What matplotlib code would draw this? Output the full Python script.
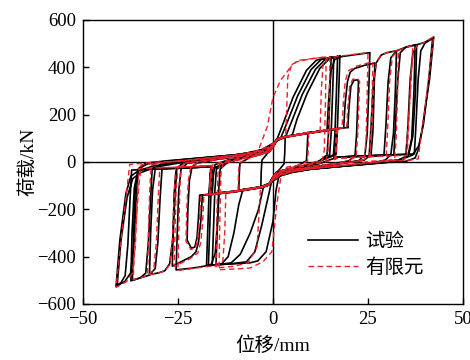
import matplotlib
matplotlib.use("Agg")
import matplotlib.pyplot as plt
import numpy as np

plt.rcParams['font.family'] = ['Liberation Serif', 'Noto Sans CJK SC']
plt.rcParams['axes.unicode_minus'] = True

# test loops (displacement mm, load kN)
t03 = [(3.2,104),(3.1,40),(2.9,-8),(1.5,-36),(0,-62),(-1,-90),(-3.2,-104),(-3.1,-40),(-2.9,8),(-1.5,36),(0,62),(1,90),(3.2,104)]
t09 = [(9.2,124),(9.0,60),(8.8,5),(6,-20),(3.4,-32),(1,-44),(0,-64),(-1,-92),(-3,-104),(-6,-112),(-9,-120),(-8.9,-60),(-8.7,-5),(-6,20),(-3.4,32),(-1,44),(0,64),(1,92),(3,104),(6,112),(9.2,124)]
t17 = [(16.7,140),(16.4,60),(16.0,15),(12,-8),(8,-20),(3.4,-33),(1,-45),(0,-66),(-1,-94),(-3,-105),(-6,-113),(-10,-123),(-16.0,-136),(-15.7,-60),(-15.3,-12),(-12,8),(-8,18),(-3.4,33),(-1,45),(0,66),(1,94),(3,105),(6,113),(10,123),(16.7,140)]
tc1 = [(15.3,442),(15.0,300),(14.6,120),(14.2,30),(12,2),(8,-18),(4,-31),(1.8,-40),(0.8,-120),(0,-250),(-1.8,-379),(-4,-418),(-6,-426),(-10,-430),(-15,-434),(-14.7,-300),(-14.3,-120),(-13.9,-30),(-12,-2),(-8,18),(-4,31),(-1.5,44),(0,70),(0.9,89),(2.6,160),(5.3,274),(8.8,387),(11.4,430),(13.5,438),(15.3,442)]
tc2 = [(16.0,444),(15.7,300),(15.3,120),(14.9,30),(12,2),(8,-18),(4,-31),(1,-42),(-0.2,-70),(-1.3,-150),(-3,-270),(-4.8,-380),(-7,-422),(-11,-430),(-16,-436),(-15.7,-300),(-15.3,-120),(-14.9,-30),(-12,-2),(-8,18),(-4,31),(-1,44),(0.5,80),(2.1,104),(3.8,170),(6.5,280),(10,390),(12.6,432),(14.5,440),(16.0,444)]
tc3 = [(17.0,446),(16.7,300),(16.3,120),(15.9,30),(12,2),(8,-18),(4,-31),(1,-42),(0,-66),(-1,-94),(-2.5,-104),(-3.8,-200),(-6,-300),(-8.6,-390),(-11,-426),(-13.5,-432),(-17,-438),(-16.7,-300),(-16.3,-120),(-15.9,-30),(-12,-2),(-8,18),(-4,31),(-1,44),(0,66),(1,92),(3.3,106),(5,175),(7.7,285),(11.2,392),(13.8,434),(17.0,446)]
tc4 = [(17.6,447),(17.3,300),(16.9,120),(16.5,30),(12,2),(8,-18),(4,-31),(1,-42),(0,-66),(-1,-94),(-3,-105),(-6,-112),(-7.9,-115),(-9.0,-180),(-10.3,-300),(-11.8,-400),(-13.5,-430),(-17.5,-440),(-17.2,-300),(-16.8,-120),(-16.4,-30),(-12,-2),(-8,18),(-4,31),(-1,44),(0,66),(1,92),(3,105),(5,110),(6.3,180),(9,290),(12.3,395),(14.8,436),(17.6,447)]
t22 = [(19.7,146),(20.0,230),(20.5,320),(21.3,345),(22.2,347),(22.5,340),(22.3,250),(22.0,120),(21.6,30),(20,5),(15,-10),(10,-22),(5,-32),(2,-40),(0,-66),(-1,-94),(-3,-105),(-10,-123),(-16.7,-136),(-19.3,-140),(-19.6,-230),(-20,-320),(-20.6,-360),(-21.5,-364),(-22.6,-330),(-22.4,-200),(-22.0,-80),(-21.3,-20),(-20,-5),(-15,10),(-10,22),(-5,32),(-2,40),(0,66),(1,94),(3,105),(10,123),(16.7,140),(19.7,146)]
t27 = [(16.7,140),(18.6,144),(19.0,250),(19.6,340),(20.3,379),(21.5,395),(24,408),(26.8,418),(26.6,300),(26.3,130),(25.8,30),(24,8),(18,-5),(10,-22),(5,-32),(2,-42),(0,-68),(-1,-96),(-3,-106),(-10,-124),(-16.7,-137),(-18.6,-142),(-19,-250),(-19.6,-340),(-20.3,-380),(-21.5,-400),(-24,-420),(-26.5,-440),(-26.3,-300),(-26,-130),(-25.5,-30),(-24,-8),(-18,5),(-10,22),(-5,32),(-2,42),(0,68),(1,96),(3,106),(10,124),(16.7,140)]
t25 = [(10,123),(14.2,132),(14.6,250),(15.2,380),(16.2,432),(18,445),(21,452),(25.5,462),(25.2,300),(24.8,120),(24.2,30),(22.5,5),(16,-12),(10,-25),(5,-36),(2,-46),(0,-68),(-1,-95),(-3,-106),(-10,-124),(-14.2,-130),(-14.6,-250),(-15.2,-385),(-16.2,-432),(-18,-440),(-21,-448),(-25.5,-456),(-25.2,-300),(-24.8,-120),(-24.2,-30),(-22.5,-5),(-16,12),(-10,25),(-5,36),(-2,46),(0,68),(1,95),(3,106),(10,123)]
t33 = [(16.7,140),(16.6,60),(16.3,20),(20,22),(25.3,25),(25.8,150),(26.4,330),(27.2,420),(28.5,452),(30,462),(32.5,470),(32.2,300),(31.7,120),(31.0,30),(29.5,8),(25,-8),(18,-18),(10,-30),(5,-40),(2,-50),(0,-70),(-1,-96),(-3,-106),(-10,-124),(-16.7,-137),(-16.5,-60),(-16.2,-20),(-20,-22),(-25.3,-25),(-25.8,-150),(-26.4,-330),(-27.2,-430),(-28.5,-460),(-30,-468),(-32.5,-476),(-32.2,-300),(-31.7,-120),(-31,-30),(-29.5,-8),(-25,8),(-18,18),(-10,30),(-5,40),(-2,50),(0,70),(1,96),(3,106),(10,124),(16.7,140)]
t37 = [(16.7,140),(16.6,60),(16.3,20),(22,24),(29.2,28),(29.7,150),(30.3,340),(31,440),(32.5,470),(35,485),(37.4,494),(37.1,300),(36.5,100),(35.5,25),(33.5,5),(28,-5),(20,-16),(10,-30),(5,-42),(2,-55),(0,-75),(-1.2,-98),(-3,-107),(-10,-125),(-16.7,-138),(-16.5,-60),(-16.2,-20),(-22,-24),(-29.2,-28),(-29.7,-150),(-30.3,-340),(-31,-450),(-32.5,-478),(-35,-490),(-37,-500),(-36.7,-300),(-36.2,-100),(-35.2,-25),(-33.5,-5),(-28,5),(-20,16),(-10,30),(-5,42),(-2,55),(0,75),(1.2,98),(3,107),(10,125),(16.7,140)]
t37b = [(16.7,140),(16.6,60),(16.3,20),(22,24),(31.8,30),(32.2,150),(32.8,340),(33.5,462),(35,486),(37.8,496),(37.5,300),(36.8,110),(35.7,30),(33,8),(28,-3),(20,-15),(10,-30),(5,-42),(2,-55),(0,-75),(-1.2,-98),(-3,-107),(-10,-125),(-16.7,-138),(-16.5,-60),(-16.2,-20),(-22,-24),(-31.8,-30),(-32.2,-150),(-32.8,-340),(-33.5,-470),(-35,-490),(-37.4,-502),(-37.1,-300),(-36.5,-110),(-35.5,-30),(-33,-8),(-28,3),(-20,15),(-10,30),(-5,42),(-2,55),(0,75),(1.2,98),(3,107),(10,125),(16.7,140)]
t42 = [(16.7,140),(16.6,60),(16.3,20),(25,26),(35,32),(35.5,150),(36.1,350),(36.8,460),(38,496),(40,506),(42.3,528),(41.2,350),(39.2,132),(38.2,50),(37.4,17),(35,3),(30,-2),(20,-15),(10,-30),(5,-44),(2,-58),(0,-80),(-1.5,-100),(-3,-108),(-10,-126),(-16.7,-138),(-16.5,-60),(-16.2,-20),(-25,-26),(-35.5,-32),(-36,-150),(-36.6,-350),(-37.5,-470),(-39,-505),(-41.3,-525),(-40.3,-330),(-38.7,-132),(-37.4,-60),(-35.5,-38),(-31.6,-17),(-25,-2),(-15,18),(-8,34),(-3,52),(0,78),(1.5,100),(3,107),(10,125),(16.7,140)]
t42b = [(16.7,140),(16.6,60),(16.3,20),(25,26),(37.2,34),(37.6,150),(38.2,350),(38.9,470),(40,502),(42.0,522),(41.0,350),(39.6,160),(38.4,70),(36.8,30),(34,12),(30,2),(20,-15),(10,-30),(5,-44),(2,-58),(0,-80),(-1.5,-100),(-3,-108),(-10,-126),(-16.7,-138),(-16.5,-60),(-16.2,-20),(-25,-26),(-37.2,-34),(-37.6,-150),(-38.2,-350),(-38.9,-480),(-40,-510),(-41.0,-520),(-40.0,-330),(-38.4,-150),(-36.9,-70),(-34.8,-45),(-31,-22),(-25,-5),(-15,16),(-8,32),(-3,50),(0,78),(1.5,100),(3,107),(10,125),(16.7,140)]

# finite element loops
f09 = [(9.4,126),(9.3,60),(9.1,4),(6,-18),(3.4,-30),(1,-42),(0,-62),(-1,-92),(-3,-104),(-6,-112),(-9.2,-121),(-9.1,-60),(-8.9,-4),(-6,18),(-3.4,30),(-1,42),(0,62),(1,92),(3,104),(6,112),(9.4,126)]
f17 = [(17.0,141),(16.8,60),(16.5,12),(12,-6),(8,-18),(3.4,-31),(1,-43),(0,-64),(-1,-93),(-3,-104),(-6,-112),(-10,-122),(-16.4,-137),(-16.2,-60),(-15.8,-10),(-12,6),(-8,18),(-3.4,31),(-1,43),(0,64),(1,93),(3,104),(6,112),(10,122),(17.0,141)]
fc1 = [(14.0,444),(13.8,250),(13.5,50),(13,8),(8,-12),(3.9,-20),(2.3,-38),(1,-179),(-0.3,-379),(-2.6,-421),(-6,-448),(-10,-452),(-14.2,-455),(-14.0,-250),(-13.7,-50),(-13.2,-8),(-8,12),(-3.9,47),(-1.5,150),(0,273),(2,345),(3.9,385),(5,412),(7.1,430),(10,436),(14.0,444)]
fc2 = [(15.0,446),(14.8,250),(14.5,50),(14,8),(8,-14),(4,-28),(2,-40),(0,-66),(-1,-94),(-3.3,-106),(-3.6,-200),(-4.2,-360),(-6.5,-425),(-10,-440),(-15,-448),(-14.8,-250),(-14.5,-50),(-14,-8),(-8,14),(-4,28),(-2,40),(0,66),(1,94),(3.3,106),(3.5,173),(3.9,359),(4.8,405),(6.1,423),(10,436),(15.0,446)]
f22 = [(19.4,146),(19.7,230),(20.2,320),(21.0,350),(22.3,352),(22.8,340),(22.6,250),(22.3,120),(21.9,25),(20,4),(15,-9),(10,-21),(5,-31),(2,-40),(0,-66),(-1,-94),(-3,-105),(-10,-123),(-16.7,-136),(-19.0,-140),(-19.3,-230),(-19.8,-320),(-20.4,-362),(-21.6,-370),(-22.9,-335),(-22.7,-200),(-22.3,-80),(-21.6,-18),(-20,-4),(-15,9),(-10,21),(-5,31),(-2,40),(0,66),(1,94),(3,105),(10,123),(16.7,141),(19.4,146)]
f27 = [(16.7,141),(18.2,143),(18.5,250),(19.0,340),(19.8,385),(22,405),(26.3,424),(26.1,300),(25.8,120),(25.3,20),(23,4),(18,-6),(10,-22),(5,-32),(2,-42),(0,-68),(-1,-96),(-3,-106),(-10,-124),(-16.7,-138),(-18.2,-142),(-18.5,-250),(-19.0,-340),(-19.8,-385),(-22,-410),(-26,-442),(-25.8,-300),(-25.5,-120),(-25,-20),(-23,-4),(-18,6),(-10,22),(-5,32),(-2,42),(0,68),(1,96),(3,106),(10,124),(16.7,141)]
f25 = [(10,123),(12.4,128),(12.7,300),(13.2,418),(14.5,440),(18,448),(21,454),(25.0,462),(24.8,300),(24.5,100),(24.1,15),(22,2),(16,-10),(10,-24),(5,-35),(2,-46),(0,-68),(-1,-95),(-3,-106),(-10,-124),(-12.4,-127),(-12.7,-300),(-13.2,-420),(-14.5,-438),(-18,-443),(-21,-450),(-25.0,-458),(-24.8,-300),(-24.5,-100),(-24.1,-15),(-22,-2),(-16,10),(-10,24),(-5,35),(-2,46),(0,68),(1,95),(3,106),(10,123)]
f33 = [(16.7,141),(16.6,60),(16.3,15),(20,18),(25.6,22),(26.0,150),(26.5,330),(27.2,425),(28.5,452),(30,462),(33.0,472),(32.8,300),(32.4,100),(32.0,12),(29,4),(24,-6),(18,-16),(10,-28),(5,-38),(2,-50),(0,-70),(-1,-96),(-3,-106),(-10,-124),(-16.7,-137),(-16.5,-60),(-16.2,-15),(-20,-18),(-25.6,-22),(-26.0,-150),(-26.5,-330),(-27.2,-435),(-28.5,-460),(-30,-468),(-33.0,-478),(-32.8,-300),(-32.4,-100),(-32.0,-12),(-29,-4),(-24,6),(-18,16),(-10,28),(-5,38),(-2,50),(0,70),(1,96),(3,106),(10,124),(16.7,141)]
f37 = [(16.7,141),(16.6,60),(16.3,15),(22,20),(29.8,25),(30.2,150),(30.7,340),(31.4,445),(33,472),(35,484),(36.8,492),(36.2,300),(35.3,100),(34.7,13),(31,4),(25,-4),(18,-14),(10,-28),(5,-40),(2,-54),(0,-74),(-1.2,-98),(-3,-107),(-10,-125),(-16.7,-138),(-16.5,-60),(-16.2,-15),(-22,-20),(-29.8,-25),(-30.2,-150),(-30.7,-340),(-31.4,-455),(-33,-480),(-35,-490),(-36.8,-498),(-36.2,-300),(-35.3,-100),(-34.7,-13),(-31,-4),(-25,4),(-18,14),(-10,28),(-5,40),(-2,54),(0,74),(1.2,98),(3,107),(10,125),(16.7,141)]
f42 = [(16.7,141),(16.6,60),(16.3,15),(25,22),(35.3,28),(35.7,150),(36.2,350),(36.9,462),(38,495),(40,506),(42.3,530),(40.3,270),(38.2,13),(35,6),(26,4),(20,-12),(10,-28),(5,-42),(2,-56),(0,-78),(-1.5,-100),(-3,-108),(-10,-126),(-16.7,-138),(-16.5,-60),(-16.2,-15),(-25,-22),(-35.3,-28),(-35.7,-150),(-36.2,-350),(-37,-470),(-38.5,-505),(-41.3,-530),(-39.5,-260),(-37.7,-10),(-30,0),(-23.7,4),(-15,18),(-8,34),(-3,52),(0,78),(1.5,100),(3,108),(10,126),(16.7,141)]

test_loops = [t03, t09, t17, tc1, tc2, tc3, tc4, t22, t27, t25, t33, t37, t37b, t42, t42b]
fe_loops = [f09, f17, fc1, fc2, f22, f27, f25, f33, f37, f42]

xticks = [-50, -25, 0, 25, 50]
yticks = [-600, -400, -200, 0, 200, 400, 600]

fig = plt.figure(figsize=(4.7, 3.6), dpi=100)
ax = fig.add_axes([0.1766, 0.1556, 0.8085, 0.7889])

ax.axhline(0, color='black', lw=1.0, zorder=1)
ax.axvline(0, color='black', lw=1.0, zorder=1)

for i, loop in enumerate(test_loops):
    xs, ys = np.array(loop).T
    ax.plot(xs, ys, color='black', lw=1.2, solid_joinstyle='round',
            label='试验' if i == 0 else None, zorder=2)
for i, loop in enumerate(fe_loops):
    xs, ys = np.array(loop).T
    ax.plot(xs, ys, color='#e8202a', lw=1.0, ls=(0, (4, 2.5)),
            label='有限元' if i == 0 else None, zorder=3)

ax.set_xlim(-50, 50)
ax.set_ylim(-600, 600)
ax.set_xticks(xticks)
ax.set_yticks(yticks)
ax.tick_params(direction='in', length=4, width=1, labelsize=13.5, pad=5)
for s in ax.spines.values():
    s.set_linewidth(1.0)

ax.set_xlabel('位移/mm', fontsize=14, labelpad=6)
ax.set_ylabel('荷载/kN', fontsize=14, labelpad=0)

ax.legend(loc='lower left', bbox_to_anchor=(0.545, 0.035), frameon=False,
          fontsize=14, handlelength=2.6, handletextpad=0.35, labelspacing=0.35)

fig.savefig('out.png', dpi=100)
